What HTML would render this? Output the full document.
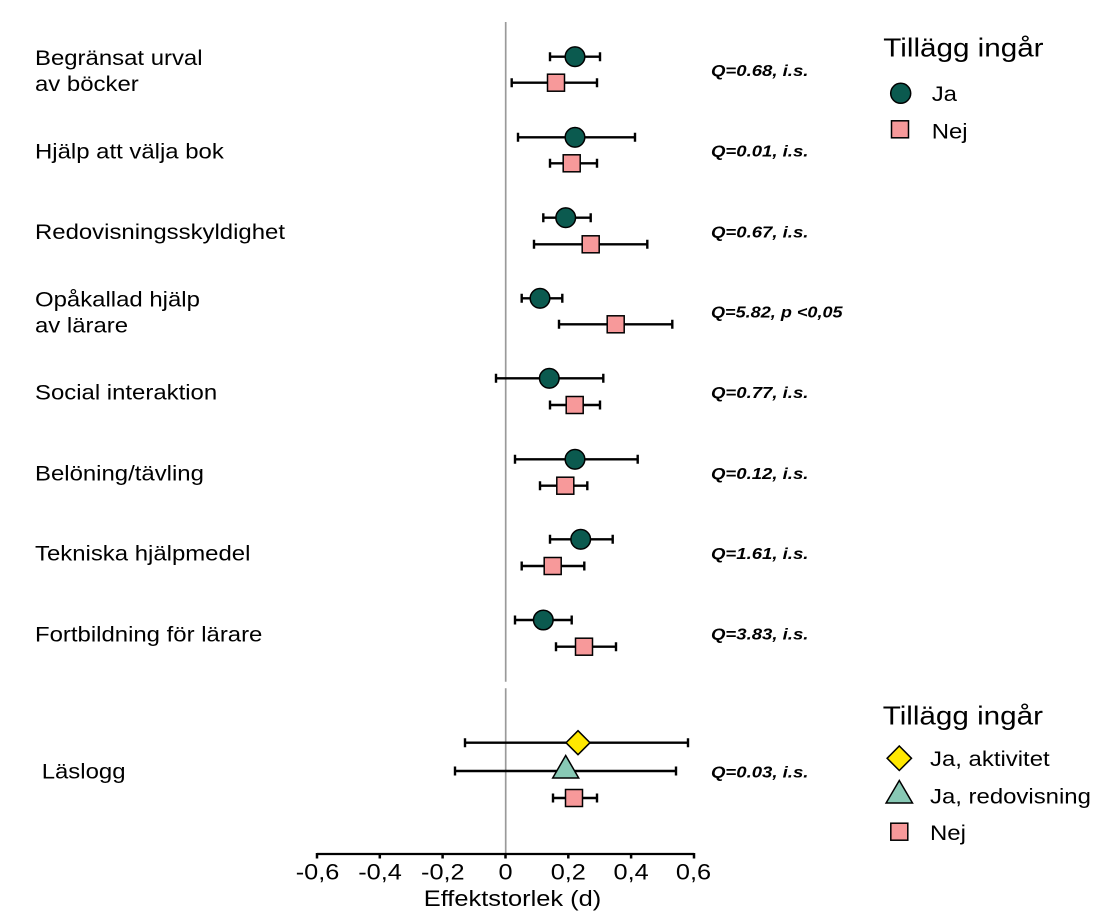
<!DOCTYPE html>
<html>
<head>
<meta charset="utf-8">
<style>
  html, body { margin: 0; padding: 0; background: #ffffff; }
  svg { display: block; }
  text { font-family: "Liberation Sans", Arial, sans-serif; fill: #000; }
  .lab { font-size: 21px; }
  .q { font-size: 16px; font-weight: bold; font-style: italic; }
  .tick { font-size: 22px; }
  .leg { font-size: 26px; }
</style>
</head>
<body>
<svg width="1100" height="917" viewBox="0 0 1100 917" xmlns="http://www.w3.org/2000/svg">
  <rect width="1100" height="917" fill="#ffffff"/>

  <!-- zero reference line -->
  <line x1="505.7" y1="22" x2="505.7" y2="681.7" stroke="#9a9a9a" stroke-width="1.7"/>
  <line x1="505.7" y1="688.3" x2="505.7" y2="853" stroke="#9a9a9a" stroke-width="1.7"/>

  <!-- x axis -->
  <line x1="317" y1="854" x2="694" y2="854" stroke="#000" stroke-width="2.2"/>
  <g stroke="#000" stroke-width="2.5">
    <line x1="317" y1="853" x2="317" y2="858.5"/>
    <line x1="379.8" y1="853" x2="379.8" y2="858.5"/>
    <line x1="442.6" y1="853" x2="442.6" y2="858.5"/>
    <line x1="505.5" y1="853" x2="505.5" y2="858.5"/>
    <line x1="568.3" y1="853" x2="568.3" y2="858.5"/>
    <line x1="631.1" y1="853" x2="631.1" y2="858.5"/>
    <line x1="694" y1="853" x2="694" y2="858.5"/>
  </g>
  <g class="tick" text-anchor="middle">
    <text transform="translate(317.5,879.3) scale(1.15,1)">-0,6</text>
    <text transform="translate(380,879.3) scale(1.15,1)">-0,4</text>
    <text transform="translate(442.8,879.3) scale(1.15,1)">-0,2</text>
    <text transform="translate(505.5,879.3) scale(1.15,1)">0</text>
    <text transform="translate(568.3,879.3) scale(1.15,1)">0,2</text>
    <text transform="translate(631.1,879.3) scale(1.15,1)">0,4</text>
    <text transform="translate(693.5,879.3) scale(1.15,1)">0,6</text>
    <text transform="translate(512.5,906) scale(1.14,1)" style="font-size:22.3px">Effektstorlek (d)</text>
  </g>

  <!-- row labels -->
  <g class="lab">
    <text transform="translate(35,65) scale(1.14,1)">Begränsat urval</text>
    <text transform="translate(35,91) scale(1.14,1)">av böcker</text>
    <text transform="translate(35,158.3) scale(1.14,1)">Hjälp att välja bok</text>
    <text transform="translate(35,239) scale(1.14,1)">Redovisningsskyldighet</text>
    <text transform="translate(35,306.5) scale(1.14,1)">Opåkallad hjälp</text>
    <text transform="translate(35,332.5) scale(1.14,1)">av lärare</text>
    <text transform="translate(35,399.5) scale(1.14,1)">Social interaktion</text>
    <text transform="translate(35,480.5) scale(1.14,1)">Belöning/tävling</text>
    <text transform="translate(35,560.7) scale(1.14,1)">Tekniska hjälpmedel</text>
    <text transform="translate(35,641.3) scale(1.14,1)">Fortbildning för lärare</text>
    <text transform="translate(41.7,778.3) scale(1.14,1)">Läslogg</text>
  </g>

  <!-- Q statistics -->
  <g class="q">
    <text transform="translate(711,76.1) scale(1.16,1)">Q=0.68, i.s.</text>
    <text transform="translate(711,156.7) scale(1.16,1)">Q=0.01, i.s.</text>
    <text transform="translate(711,237.4) scale(1.16,1)">Q=0.67, i.s.</text>
    <text transform="translate(711,317.7) scale(1.13,1)">Q=5.82, p &lt;0,05</text>
    <text transform="translate(711,398.1) scale(1.16,1)">Q=0.77, i.s.</text>
    <text transform="translate(711,478.9) scale(1.16,1)">Q=0.12, i.s.</text>
    <text transform="translate(711,559.1) scale(1.16,1)">Q=1.61, i.s.</text>
    <text transform="translate(711,639.7) scale(1.16,1)">Q=3.83, i.s.</text>
    <text transform="translate(711,777.4) scale(1.16,1)">Q=0.03, i.s.</text>
  </g>

  <!-- error bars -->
  <g stroke="#000" stroke-width="2.4" fill="none">
    <path d="M550,56.7H600 M550,52.2V61.2 M600,52.2V61.2"/>
    <path d="M511.7,82.7H597 M511.7,78.2V87.2 M597,78.2V87.2"/>

    <path d="M518,137.3H635 M518,132.8V141.8 M635,132.8V141.8"/>
    <path d="M550,163.3H597 M550,158.8V167.8 M597,158.8V167.8"/>

    <path d="M543.3,217.7H590.7 M543.3,213.2V222.2 M590.7,213.2V222.2"/>
    <path d="M534,244.3H647.3 M534,239.8V248.8 M647.3,239.8V248.8"/>

    <path d="M521.7,298.3H562.3 M521.7,293.8V302.8 M562.3,293.8V302.8"/>
    <path d="M559,324.3H672.3 M559,319.8V328.8 M672.3,319.8V328.8"/>

    <path d="M496,378.3H603.3 M496,373.8V382.8 M603.3,373.8V382.8"/>
    <path d="M550,405H600 M550,400.5V409.5 M600,400.5V409.5"/>

    <path d="M515,459.3H637.7 M515,454.8V463.8 M637.7,454.8V463.8"/>
    <path d="M540,485.7H587.3 M540,481.2V490.2 M587.3,481.2V490.2"/>

    <path d="M550,539.3H612.7 M550,534.8V543.8 M612.7,534.8V543.8"/>
    <path d="M521.7,566H584.3 M521.7,561.5V570.5 M584.3,561.5V570.5"/>

    <path d="M515,620H571.7 M515,615.5V624.5 M571.7,615.5V624.5"/>
    <path d="M556,646.7H616 M556,642.2V651.2 M616,642.2V651.2"/>

    <path d="M465,742.7H688 M465,738.2V747.2 M688,738.2V747.2"/>
    <path d="M455,771H676 M455,766.5V775.5 M676,766.5V775.5"/>
    <path d="M553,798H597 M553,793.5V802.5 M597,793.5V802.5"/>
  </g>

  <!-- markers: circles (Ja) -->
  <g fill="#0b5a4f" stroke="#000" stroke-width="1.5">
    <circle cx="575" cy="56.7" r="9.8"/>
    <circle cx="575" cy="137.3" r="9.8"/>
    <circle cx="565.7" cy="217.7" r="9.8"/>
    <circle cx="540" cy="298.3" r="9.8"/>
    <circle cx="549.3" cy="378.3" r="9.8"/>
    <circle cx="575" cy="459.3" r="9.8"/>
    <circle cx="580.7" cy="539.3" r="9.8"/>
    <circle cx="543.3" cy="620" r="9.8"/>
  </g>

  <!-- markers: squares (Nej) -->
  <g fill="#f7999a" stroke="#000" stroke-width="1.5">
    <rect x="547.5" y="74.2" width="17" height="17"/>
    <rect x="563.2" y="154.8" width="17" height="17"/>
    <rect x="582.2" y="235.8" width="17" height="17"/>
    <rect x="607.2" y="315.8" width="17" height="17"/>
    <rect x="566.2" y="396.5" width="17" height="17"/>
    <rect x="556.8" y="477.2" width="17" height="17"/>
    <rect x="544.2" y="557.5" width="17" height="17"/>
    <rect x="575.5" y="638.2" width="17" height="17"/>
    <rect x="565.5" y="789.5" width="17" height="17"/>
  </g>

  <!-- Läslogg diamond & triangle -->
  <polygon points="578,730.7 590,742.7 578,754.7 566,742.7" fill="#ffe800" stroke="#000" stroke-width="1.5"/>
  <polygon points="565.7,755.5 578.7,778 552.7,778" fill="#88c9b5" stroke="#000" stroke-width="1.5"/>

  <!-- legend 1 -->
  <text class="leg" transform="translate(883.3,56.7) scale(1.14,1)">Tillägg ingår</text>
  <circle cx="900.7" cy="93.3" r="10" fill="#0b5a4f" stroke="#000" stroke-width="1.5"/>
  <text class="lab" transform="translate(931.7,101) scale(1.14,1)">Ja</text>
  <rect x="891.5" y="120.8" width="17" height="17" fill="#f7999a" stroke="#000" stroke-width="1.5"/>
  <text class="lab" transform="translate(931.7,138.3) scale(1.14,1)">Nej</text>

  <!-- legend 2 -->
  <text class="leg" transform="translate(882.7,724.3) scale(1.14,1)">Tillägg ingår</text>
  <polygon points="899.3,746 911.5,758.3 899.3,770.5 887.1,758.3" fill="#ffe800" stroke="#000" stroke-width="1.5"/>
  <text class="lab" transform="translate(930,766) scale(1.14,1)">Ja, aktivitet</text>
  <polygon points="899.3,780.5 912.5,803 886.1,803" fill="#88c9b5" stroke="#000" stroke-width="1.5"/>
  <text class="lab" transform="translate(930,803.3) scale(1.14,1)">Ja, redovisning</text>
  <rect x="890.8" y="823.2" width="17" height="17" fill="#f7999a" stroke="#000" stroke-width="1.5"/>
  <text class="lab" transform="translate(930,840) scale(1.14,1)">Nej</text>
</svg>
</body>
</html>
